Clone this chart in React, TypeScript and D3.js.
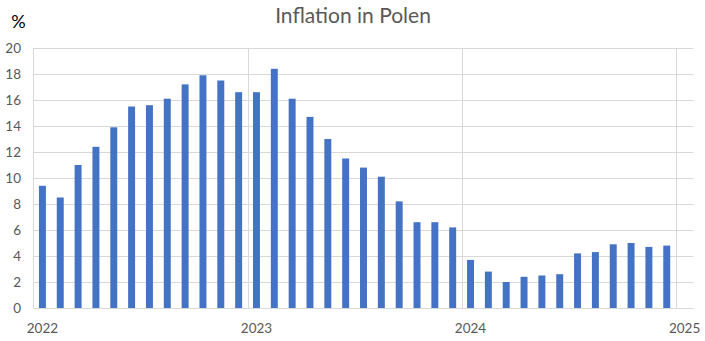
import React from "react";
import * as d3 from "d3";

const months: string[] = [];
for (const y of [2022, 2023, 2024, 2025]) {
  for (let m = 1; m <= 12; m++) {
    if (y === 2025 && m > 1) break;
    months.push(`${y}-${String(m).padStart(2, "0")}`);
  }
}
const values = [
  9.4, 8.5, 11.0, 12.4, 13.9, 15.5, 15.6, 16.1, 17.2, 17.9, 17.5, 16.6,
  16.6, 18.4, 16.1, 14.7, 13.0, 11.5, 10.8, 10.1, 8.2, 6.6, 6.6, 6.2,
  3.7, 2.8, 2.0, 2.4, 2.5, 2.6, 4.2, 4.3, 4.9, 5.0, 4.7, 4.8,
];
const yearTicks = ["2022", "2023", "2024", "2025"];
const yTicks = [0, 2, 4, 6, 8, 10, 12, 14, 16, 18, 20];
const title = "Inflation in Polen";
const unitLabel = "%";

const W = 705;
const H = 341;
const left = 33.5;
const right = 693.5;
const top = 48;
const bottom = 308;

export default function App() {
  const x = d3.scaleBand<string>().domain(months).range([left, right]).paddingInner(0.61).paddingOuter(0.305);
  const step = x.step();
  const y = d3.scaleLinear().domain([0, 20]).range([bottom, top]);
  const grid = "#d9d9d9";
  const txt = "#595959";
  const font = "Lato, 'Open Sans', sans-serif";
  return (
    <svg width={W} height={H} style={{ position: "absolute", left: 0, top: 0, background: "#fff" }}>
      <text x={353} y={23} textAnchor="middle" fontSize={21} fill={txt} fontFamily={font}>{title}</text>
      <text x={18.5} y={28} textAnchor="middle" fontSize={18} fill="#000" fontFamily={font}>{unitLabel}</text>
      {yTicks.map((t) => (
        <g key={t}>
          <line x1={left} x2={right} y1={Math.round(y(t)) + 0.5} y2={Math.round(y(t)) + 0.5} stroke={grid} strokeWidth={1} />
          <text x={21} y={y(t) + 4.5} textAnchor="end" fontSize={13.5} fill={txt} fontFamily={font}>{t}</text>
        </g>
      ))}
      {yearTicks.map((yr) => {
        const m = `${yr}-01`;
        const x0 = (x(m) as number) - (step - x.bandwidth()) / 2;
        const cx = (x(m) as number) + x.bandwidth() / 2;
        return (
          <g key={yr}>
            <line x1={Math.round(x0) + 0.5} x2={Math.round(x0) + 0.5} y1={top} y2={bottom + 0.5} stroke={grid} strokeWidth={1} />
            <text x={cx} y={333} textAnchor="middle" fontSize={13.5} fill={txt} fontFamily={font}>{yr}</text>
          </g>
        );
      })}
      {values.map((v, i) => (
        <rect key={months[i]} x={x(months[i])} y={y(v)} width={x.bandwidth()} height={bottom - y(v)} fill="#4472C4" />
      ))}
    </svg>
  );
}
